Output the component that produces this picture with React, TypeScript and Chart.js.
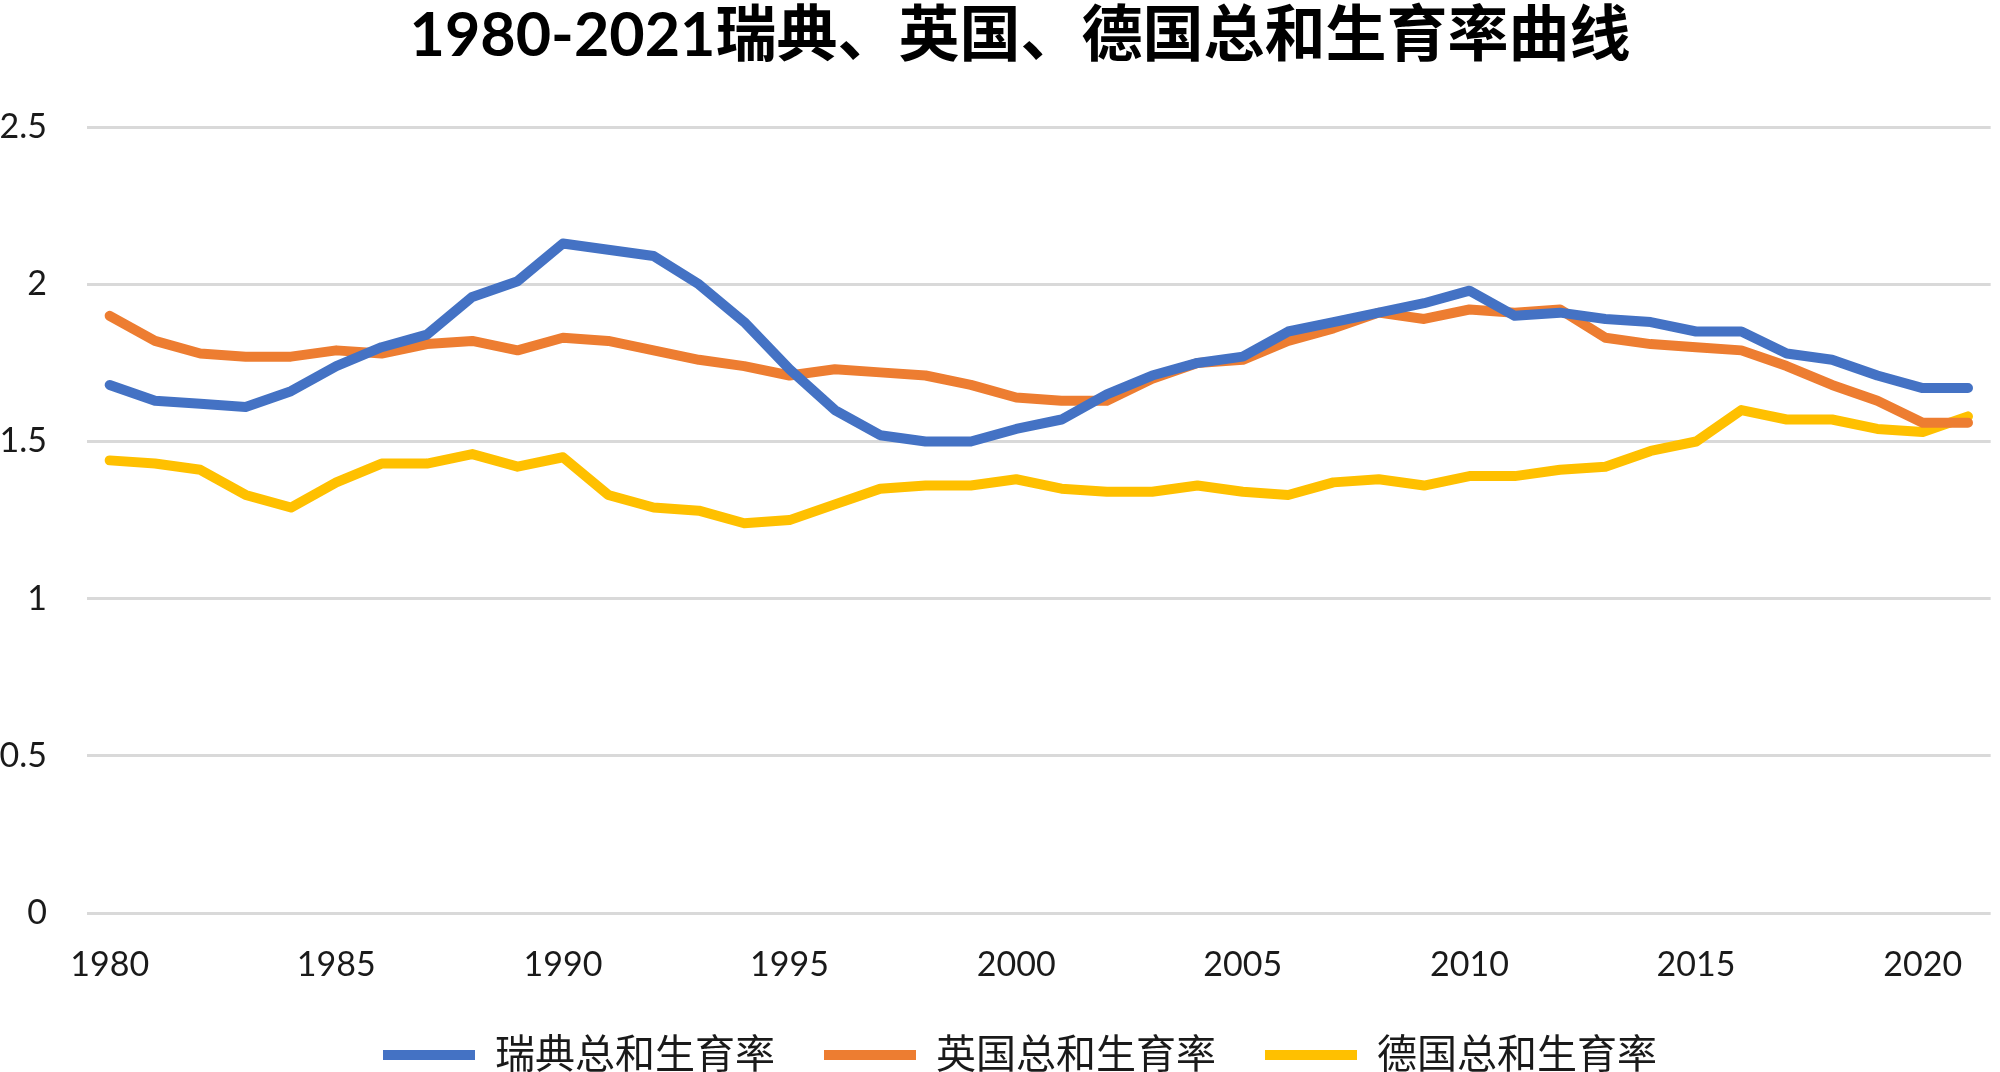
import React, { useEffect, useRef } from 'react';
import { Chart, registerables } from 'chart.js';

Chart.register(...registerables);

const years = [
  '1980', '1981', '1982', '1983', '1984', '1985', '1986', '1987', '1988', '1989',
  '1990', '1991', '1992', '1993', '1994', '1995', '1996', '1997', '1998', '1999',
  '2000', '2001', '2002', '2003', '2004', '2005', '2006', '2007', '2008', '2009',
  '2010', '2011', '2012', '2013', '2014', '2015', '2016', '2017', '2018', '2019',
  '2020', '2021',
];

const shownYears = ['1980', '1985', '1990', '1995', '2000', '2005', '2010', '2015', '2020'];

const sweden = [
  1.68, 1.63, 1.62, 1.61, 1.66, 1.74, 1.80, 1.84, 1.96, 2.01,
  2.13, 2.11, 2.09, 2.00, 1.88, 1.73, 1.60, 1.52, 1.50, 1.50,
  1.54, 1.57, 1.65, 1.71, 1.75, 1.77, 1.85, 1.88, 1.91, 1.94,
  1.98, 1.90, 1.91, 1.89, 1.88, 1.85, 1.85, 1.78, 1.76, 1.71,
  1.67, 1.67,
];

const uk = [
  1.90, 1.82, 1.78, 1.77, 1.77, 1.79, 1.78, 1.81, 1.82, 1.79,
  1.83, 1.82, 1.79, 1.76, 1.74, 1.71, 1.73, 1.72, 1.71, 1.68,
  1.64, 1.63, 1.63, 1.70, 1.75, 1.76, 1.82, 1.86, 1.91, 1.89,
  1.92, 1.91, 1.92, 1.83, 1.81, 1.80, 1.79, 1.74, 1.68, 1.63,
  1.56, 1.56,
];

const germany = [
  1.44, 1.43, 1.41, 1.33, 1.29, 1.37, 1.43, 1.43, 1.46, 1.42,
  1.45, 1.33, 1.29, 1.28, 1.24, 1.25, 1.30, 1.35, 1.36, 1.36,
  1.38, 1.35, 1.34, 1.34, 1.36, 1.34, 1.33, 1.37, 1.38, 1.36,
  1.39, 1.39, 1.41, 1.42, 1.47, 1.50, 1.60, 1.57, 1.57, 1.54,
  1.53, 1.58,
];

const yTickValues = [0, 0.5, 1, 1.5, 2, 2.5];

const seriesNames = ['瑞典总和生育率', '英国总和生育率', '德国总和生育率'];
const seriesColors = ['#4472C4', '#ED7D31', '#FFC000'];
const titleText = '1980-2021瑞典、英国、德国总和生育率曲线';

const FONT = "Lato, 'Noto Sans CJK SC', sans-serif";

export default function App() {
  const canvasRef = useRef<HTMLCanvasElement | null>(null);

  useEffect(() => {
    if (!canvasRef.current) return;
    const values = [sweden, uk, germany];
    const chart = new Chart(canvasRef.current, {
      type: 'line',
      data: {
        labels: years,
        datasets: values.map((v, i) => ({
          label: seriesNames[i],
          data: v,
          borderColor: seriesColors[i],
          backgroundColor: seriesColors[i],
          borderWidth: 10,
          pointRadius: 0,
          pointHoverRadius: 0,
          tension: 0,
          borderJoinStyle: 'round' as const,
          borderCapStyle: 'round' as const,
          fill: false,
        })),
      },
      options: {
        animation: false,
        responsive: true,
        maintainAspectRatio: false,
        devicePixelRatio: 1,
        layout: { padding: { left: 0, right: -40, top: 0, bottom: 0 } },
        plugins: {
          title: {
            display: true,
            text: titleText,
            color: '#000',
            font: { family: FONT, size: 61, weight: 'bold' },
            padding: { top: 0, bottom: 54 },
          },
          legend: {
            display: true,
            position: 'bottom',
            maxHeight: 86,
            labels: {
              usePointStyle: true,
              pointStyle: 'line',
              pointStyleWidth: 92,
              padding: 49,
              color: '#1a1a1a',
              font: { family: FONT, size: 40 },
            },
          },
          tooltip: { enabled: false },
        },
        scales: {
          x: {
            type: 'category',
            offset: true,
            grid: { display: false, drawTicks: false },
            border: { display: false },
            ticks: {
              autoSkip: false,
              maxRotation: 0,
              minRotation: 0,
              padding: 32,
              color: '#1a1a1a',
              font: { family: FONT, size: 34 },
              callback: function (this: any, val: any) {
                const l = this.getLabelForValue(val);
                return shownYears.includes(l) ? l : '';
              },
            },
            afterFit: (scale: any) => {
              scale.height = 73;
            },
          },
          y: {
            min: 0,
            max: 2.5,
            grid: { color: '#d9d9d9', lineWidth: 3, drawTicks: false },
            border: { display: false },
            afterBuildTicks: (scale: any) => {
              scale.ticks = yTickValues.map((v) => ({ value: v }));
            },
            ticks: {
              padding: 40,
              color: '#1a1a1a',
              font: { family: FONT, size: 34 },
              callback: (v: any) => String(v),
            },
            afterFit: (scale: any) => {
              scale.width = 87;
            },
          },
        },
      },
    });
    return () => chart.destroy();
  }, []);

  return (
    <div
      style={{
        position: 'fixed',
        left: 0,
        top: 0,
        width: 2000,
        height: 1072,
        background: '#fff',
      }}
    >
      <canvas ref={canvasRef} />
    </div>
  );
}
